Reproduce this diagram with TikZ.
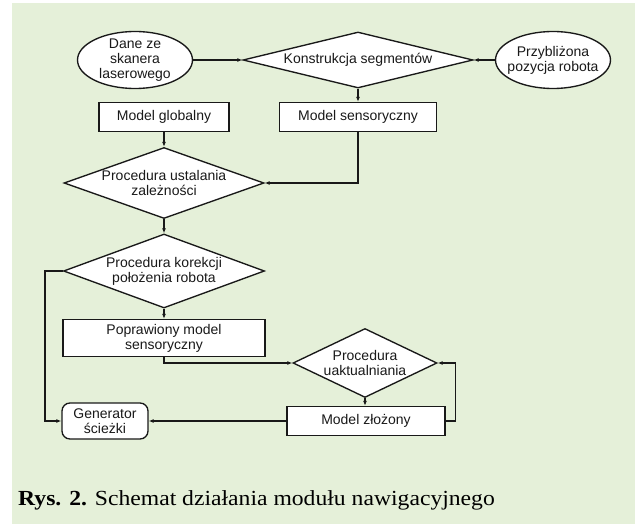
\documentclass[tikz,border=0pt]{standalone}
\usepackage{fontspec}
\setmainfont{Liberation Serif}[FakeStretch=1.1]
\setsansfont{Liberation Sans}
\usetikzlibrary{shapes.geometric,arrows.meta}
\definecolor{bggreen}{RGB}{229,240,217}
\definecolor{ink}{RGB}{25,25,25}
\begin{document}
\begin{tikzpicture}[x=1pt,y=-1pt,
  lbl/.style={font=\sffamily\fontsize{14}{15}\selectfont, text=ink, align=center},
  shp/.style={lbl, draw=ink, fill=white, line width=1.35pt},
  rbox/.style={shp, rectangle, inner sep=0pt},
  dbox/.style={shp, diamond, inner sep=0pt},
  ebox/.style={shp, ellipse, inner sep=0pt},
  gbox/.style={shp, rectangle, rounded corners=8pt, inner sep=0pt},
  arr/.style={draw=ink, line width=1.35pt, -{Latex[length=5pt,width=4pt]}}
]
\useasboundingbox (0,0) rectangle (638,524);
\fill[white] (0,0) rectangle (638,524);
\fill[bggreen] (12,3) rectangle (635,524);

% top row
\node[ebox, inner ysep=-1.5pt, minimum width=115pt, minimum height=57pt] (dane) at (135,60)
  {Dane ze\\skanera\\laserowego};
\node[dbox, aspect=4.1, minimum width=230pt, minimum height=56pt] (kons) at (358,60)
  {Konstrukcja segmentów};
\node[ebox, inner xsep=-9pt, inner ysep=-2pt, minimum width=115pt, minimum height=57pt] (przy) at (553,60)
  {Przybliżona\\pozycja robota};

% second row
\node[rbox, minimum width=130pt, minimum height=29pt] (mglob) at (164,117) {Model globalny};
\node[rbox, minimum width=157pt, minimum height=29pt] (msens) at (358,117) {Model sensoryczny};

% diamonds in the left column
\node[dbox, aspect=2.9, minimum width=200pt, minimum height=71pt] (ustal) at (164,183)
  {Procedura ustalania\\zależności};
\node[dbox, aspect=2.7, minimum width=201pt, minimum height=74pt] (kor) at (164,271)
  {Procedura korekcji\\położenia robota};
\node[rbox, minimum width=202pt, minimum height=37pt] (popr) at (164,338)
  {Poprawiony model\\sensoryczny};

% lower right
\node[dbox, aspect=2.09, minimum width=144pt, minimum height=69pt] (uakt) at (365,363)
  {Procedura\\uaktualniania};
\node[rbox, minimum width=158pt, minimum height=29pt] (mzl) at (366,421) {Model złożony};
\node[gbox, minimum width=86pt, minimum height=36pt] (gen) at (105,421)
  {Generator\\ścieżki};

% connectors
\draw[arr] (dane.east) -- (kons.west);
\draw[arr] (przy.west) -- (kons.east);
\draw[arr] (kons.south) -- (msens.north);
\draw[arr] (mglob.south) -- (ustal.north);
\draw[arr] (msens.south) |- (ustal.east);
\draw[arr] (ustal.south) -- (kor.north);
\draw[arr] (kor.south) -- (popr.north);
\draw[arr] (kor.west) -- ++(-18,0) |- (gen.west);
\draw[arr] (popr.south) |- (uakt.west);
\draw[arr] (uakt.south) -- (uakt.south |- mzl.north);
\draw[arr] (mzl.east) -- ++(10,0) |- (uakt.east);
\draw[arr] (mzl.west) -- (gen.east);

% caption
\node[anchor=base west, inner sep=0pt, text=black, font=\fontsize{21.5}{24}\selectfont] (cap) at (18,505)
  {\textbf{Rys. 2.} Schemat działania modułu nawigacyjnego};
\end{tikzpicture}
\end{document}
